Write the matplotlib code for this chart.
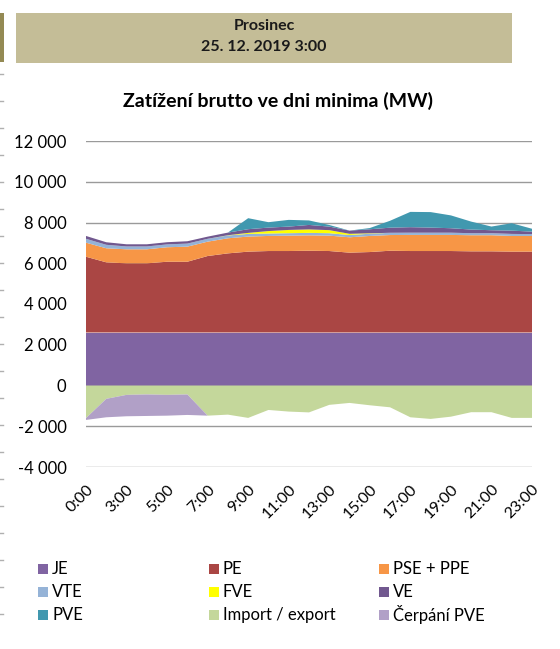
import matplotlib
matplotlib.use("Agg")
import matplotlib.pyplot as plt
from matplotlib.patches import Rectangle
from matplotlib.lines import Line2D
import numpy as np

plt.rcParams['font.family'] = ['Lato', 'DejaVu Sans']

# Hourly categories (labels shown on every second one)
hours = ["0:00", "2:00", "3:00", "4:00", "5:00", "6:00", "7:00", "8:00",
         "9:00", "10:00", "11:00", "12:00", "13:00", "14:00", "15:00",
         "16:00", "17:00", "18:00", "19:00", "20:00", "21:00", "22:00",
         "23:00"]

# Generation by source (MW)
je = [2600, 2600, 2600, 2600, 2600, 2600, 2600, 2600, 2600, 2600, 2600, 2600,
      2600, 2600, 2600, 2600, 2600, 2600, 2600, 2600, 2600, 2600, 2600]
pe = [3720, 3445, 3395, 3395, 3475, 3475, 3755, 3885, 3970, 4000, 4000, 4015,
      4000, 3920, 3950, 4015, 4000, 4000, 4000, 3985, 3985, 3970, 3970]
pse_ppe = [690, 690, 690, 690, 710, 740, 705, 740, 740, 740, 755, 755,
           755, 755, 790, 770, 790, 790, 790, 790, 790, 770, 770]
vte = [190, 170, 140, 140, 140, 150, 140, 140, 130, 120, 120, 120,
       120, 110, 110, 110, 110, 110, 110, 100, 100, 100, 90]
fve = [0, 0, 0, 0, 0, 0, 0, 10, 50, 120, 160, 170,
       150, 60, 20, 0, 0, 0, 0, 0, 0, 0, 0]
ve = [140, 126, 106, 106, 108, 115, 106, 129, 182, 170, 164, 221,
      174, 156, 198, 251, 271, 251, 219, 179, 146, 160, 123]
pve = [0, 0, 0, 0, 0, 0, 0, 0, 540, 265, 330, 220,
       80, 0, 60, 340, 750, 760, 630, 390, 180, 365, 140]

# Consumption side (negative values, MW)
import_export = [-1600, -655, -460, -440, -460, -440, -1480, -1430, -1590, -1200,
                 -1280, -1320, -950, -855, -970, -1070, -1560, -1640, -1530,
                 -1310, -1310, -1590, -1590]
cerpani_pve = [-90, -905, -1050, -1055, -1020, -1005, 0, 0, 0, 0, 0, 0,
               0, 0, 0, 0, 0, 0, 0, 0, 0, 0, 0]

series_names = ["JE", "PE", "PSE + PPE", "VTE", "FVE", "VE", "PVE",
                "Import / export", "Čerpání PVE"]
colors = ["#8064A2", "#AA4644", "#F79646", "#95B3D7", "#FFFF00", "#71588F",
          "#4198AF", "#C4D79B", "#B1A0C7"]

W, H = 560, 649
fig = plt.figure(figsize=(W / 100, H / 100), dpi=100)

# Header band
fig.add_artist(Rectangle((16 / W, 1 - 63 / H), 496 / W, 50 / H,
                         transform=fig.transFigure, facecolor="#C4BD97",
                         edgecolor="none"))
fig.add_artist(Rectangle((0, 1 - 62 / H), 4 / W, 49 / H,
                         transform=fig.transFigure, facecolor="#948A54",
                         edgecolor="none"))
fig.text(264 / W, 1 - 26 / H, "Prosinec", ha="center", va="center",
         fontsize=11.5, fontweight="bold", color="#1a1a1a")
fig.text(264 / W, 1 - 47 / H, "25. 12. 2019 3:00", ha="center", va="center",
         fontsize=11.5, fontweight="bold", color="#1a1a1a")

# Small marks along the left edge
for yy in range(74, 640, 27):
    fig.add_artist(Line2D([0, 2.5 / W], [1 - yy / H, 1 - yy / H],
                          transform=fig.transFigure, color="#b0b0b0", lw=1))

ax = fig.add_axes([86 / W, 1 - 467 / H, 446 / W, 326 / H])
x = np.arange(len(hours))

ax.stackplot(x, je, pe, pse_ppe, vte, fve, ve, pve, colors=colors[:7],
             linewidth=0)
ax.stackplot(x, import_export, cerpani_pve, colors=colors[7:], linewidth=0)

ax.set_xlim(0, len(hours) - 1)
ax.set_ylim(-4000, 12000)
yt = np.arange(-4000, 12001, 2000)
ax.set_yticks(yt)
ax.set_yticklabels([f"{v:,}".replace(",", " ") for v in yt], fontsize=12)
ax.set_xticks(x[::2])
ax.set_xticklabels(hours[::2], rotation=45, ha="right", va="top",
                   rotation_mode="anchor", fontsize=11.5)
ax.tick_params(axis="both", length=0)
ax.tick_params(axis="y", pad=14)
ax.tick_params(axis="x", pad=11)
ax.grid(axis="y", color="#9a9a9a", lw=1)
ax.set_axisbelow(True)
for s in ax.spines.values():
    s.set_visible(False)

fig.text(278 / W, 1 - 101 / H, "Zatížení brutto ve dni minima (MW)",
         ha="center", va="center", fontsize=14, fontweight="bold")

# Legend in three columns, row by row
col_x = [38, 209, 379]
row_y = [569, 592, 615]
for i, (name, c) in enumerate(zip(series_names, colors)):
    r, k = divmod(i, 3)
    fig.add_artist(Rectangle((col_x[k] / W, 1 - (row_y[r] + 5) / H), 10 / W,
                             10 / H, transform=fig.transFigure, facecolor=c,
                             edgecolor="none"))
    fig.text((col_x[k] + 14) / W, 1 - row_y[r] / H, name, ha="left",
             va="center", fontsize=12)

fig.savefig("out.png", dpi=100)
